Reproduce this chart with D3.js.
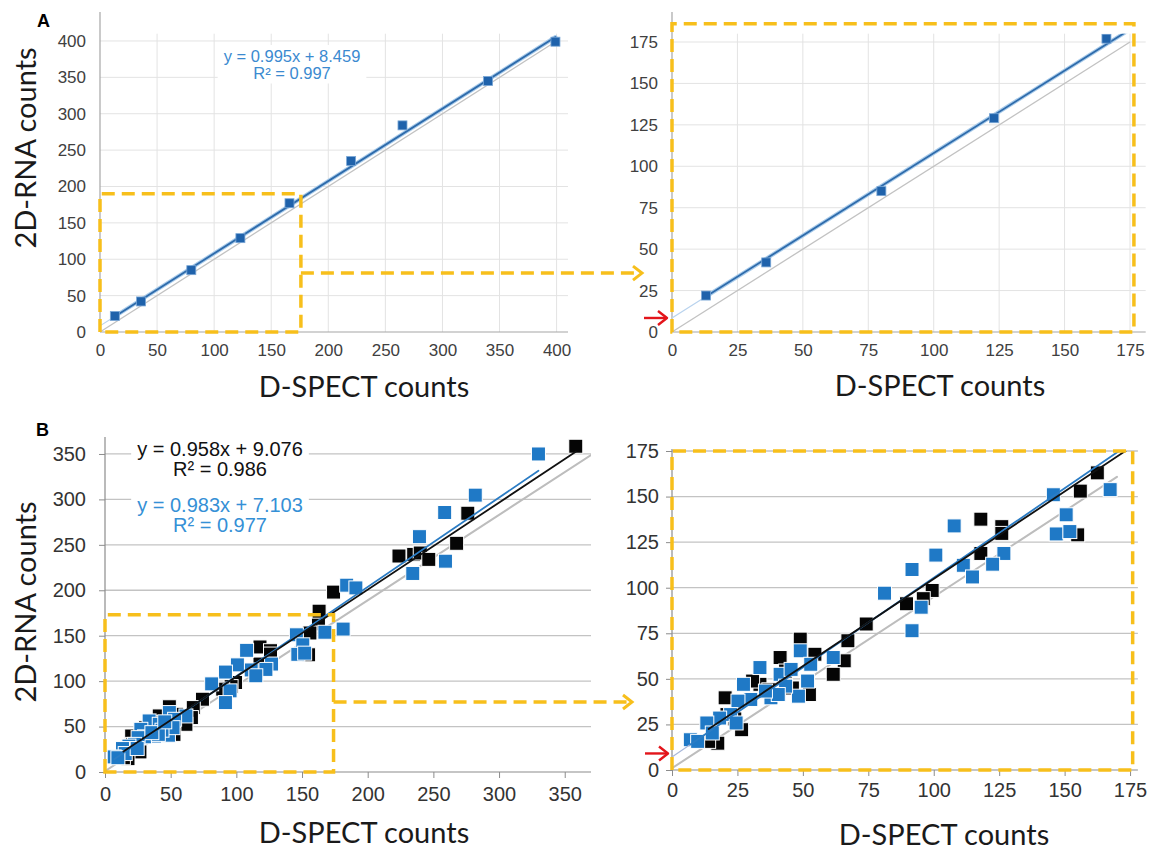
<!DOCTYPE html>
<html><head><meta charset="utf-8">
<script src="https://cdn.jsdelivr.net/npm/d3@7"></script>
<style>body{margin:0;background:#fff}svg{display:block}</style>
</head><body>
<svg id="c" width="1156" height="852"></svg>
<script>
// ---------------- DATA ----------------
// Panel A (phantom series)
const aDspect = [13, 36, 80, 123, 166, 220, 265, 340, 399];
const aRna    = [22, 42, 85, 129, 177, 235, 284, 345, 399];
const aFit = [0.995, 8.459, 0.997]; // slope, intercept, R²

// Panel B – black series
const bBlackDspect = [162.5,156,155,118,126,126,118,99.4,96,89.6,74.2,67.2,65.8,61.6,49,54.6,41.3,33.6,52.5,46,20.3,26.6,17.5,21,14,43.4,30.8,37,24,163,174,223.8,235,240,246.5,267.7,276.2,358.4];
const bBlackRna    = [163,153,129,137.6,133.5,129.8,118.8,98.5,94,91.2,80.1,70.9,59.9,52.5,71.8,63.5,61.7,47,41.4,45,39.6,22.1,14.7,30.4,15.7,54.3,48.8,44,28,177,198,237.7,239.5,241,234,251.7,284.8,358.5];
const bBlackFit = [0.958, 9.076, 0.986];

// Panel B – blue series
const bBlueDspect = [167.4,145.7,150.6,146.8,152,107.8,126.8,122.5,111.3,114.8,100.8,91.7,81.2,95.2,91.7,49,61.6,33.6,53,41.3,48.3,51.8,27.3,37.8,30.1,25.2,22.4,18.2,13.3,15.4,7,9.8,24.5,43.4,40.6,35.7,45.5,181.3,184,191,234.3,239.4,259.2,258.6,281.9,330];
const bBlueRna    = [153.8,151,140,129.5,130.8,133.9,118.8,112.9,112.3,105.9,117.9,110,97,89.3,76.4,65.4,61.7,56.2,58,52.5,40.5,48.8,47,39.6,38.7,37.8,30.4,28.5,25.8,20.3,16.6,15.7,25.8,46,41.4,43.3,55.2,157.3,205.6,202.6,218.5,259,232,285.6,304.7,350];
const bBlueFit = [0.983, 7.103, 0.977];

// grey reference line in panel B
const bGrayFit = [0.94, 1];

// tick labels
const ticksALeft  = [0,50,100,150,200,250,300,350,400];
const ticksARight = [0,25,50,75,100,125,150,175];
const ticksBLeft  = [0,50,100,150,200,250,300,350];
const ticksBRight = [0,25,50,75,100,125,150,175];

// zoom windows (data units) drawn as dashed boxes
const zoomBoxA  = [176, 190];
const zoomBoxAR = [176.5, 186];
const zoomBoxB  = [174, 173];
const zoomBoxBR = [176, 175];

// ---------------- DRAW ----------------
const svg = d3.select('#c');
const YELLOW = '#f7bf1b';
const RED = '#e3151b';
const TICKFONT = '"Liberation Sans", Arial, sans-serif';
const TITLEFONT = 'Lato, "Open Sans", sans-serif';

const toPts = (xs, ys) => xs.map((v,i)=>({x:v, y:ys[i]}));
const aPts = toPts(aDspect, aRna);
const bBlack = toPts(bBlackDspect, bBlackRna);
const bBlue = toPts(bBlueDspect, bBlueRna);

function panel(p){
  const x = d3.scaleLinear().domain(p.xd).range(p.xr);
  const y = d3.scaleLinear().domain(p.yd).range(p.yr);
  const g = svg.append('g');
  const cid = 'clip-'+p.id;
  svg.append('clipPath').attr('id',cid).append('rect')
    .attr('x',p.xr[0]).attr('y',p.yr[1]).attr('width',p.xr[1]-p.xr[0]).attr('height',p.yr[0]-p.yr[1]);
  g.append('g').selectAll('line').data(p.ticks.filter(t=>t>0)).join('line')
    .attr('x1',p.xr[0]).attr('x2',p.xr[1]).attr('y1',d=>y(d)).attr('y2',d=>y(d))
    .attr('stroke',p.grid).attr('stroke-width',p.gridW);
  if(p.vgrid){
    g.append('g').selectAll('line').data(p.xticks.filter(t=>t>0)).join('line')
      .attr('y1',p.yr[0]).attr('y2',p.yr[1]).attr('x1',d=>x(d)).attr('x2',d=>x(d))
      .attr('stroke',p.grid).attr('stroke-width',p.gridW);
  }
  const ax = g.append('g').attr('transform',`translate(0,${p.yr[0]})`)
    .call(d3.axisBottom(x).tickValues(p.xticks).tickSize(p.tick).tickSizeOuter(0).tickPadding(p.xpad));
  const ay = g.append('g').attr('transform',`translate(${p.xr[0]},0)`)
    .call(d3.axisLeft(y).tickValues(p.ticks).tickSize(p.tick).tickSizeOuter(0).tickPadding(p.ypad));
  [ax,ay].forEach(a=>{
    a.select('.domain').remove();
    a.selectAll('line').attr('stroke',p.axisColor);
    a.selectAll('text').attr('font-family',TICKFONT).attr('font-size',p.tickFont).attr('fill',p.tickColor);
  });
  g.append('line').attr('x1',p.xr[0]).attr('x2',p.xr[1]).attr('y1',p.yr[0]).attr('y2',p.yr[0]).attr('stroke',p.axisColor).attr('stroke-width',1.2);
  g.append('line').attr('x1',p.xr[0]).attr('x2',p.xr[0]).attr('y1',p.yr[0]).attr('y2',p.axisTop).attr('stroke',p.axisColor).attr('stroke-width',1.2);
  return {x,y,g,cid};
}

function fitLine(g, x, y, cid, fit, x0, x1, color, w){
  g.append('line').attr('clip-path',`url(#${cid})`)
    .attr('x1',x(x0)).attr('y1',y(fit[0]*x0+fit[1]))
    .attr('x2',x(x1)).attr('y2',y(fit[0]*x1+fit[1]))
    .attr('stroke',color).attr('stroke-width',w).attr('stroke-linecap','round');
}

function dashedBox(g,x,y,box){
  g.append('path')
    .attr('d',`M${x(0)},${y(0)} L${x(0)},${y(box[1])} L${x(box[0])},${y(box[1])} L${x(box[0])},${y(0)} Z`)
    .attr('fill','none').attr('stroke',YELLOW).attr('stroke-width',3.5).attr('stroke-dasharray','13,7');
}

function eqText(g, cx, y1, lines, color, size){
  const tg = g.append('g');
  const rect = tg.append('rect').attr('fill','#fff');
  lines.forEach((t,i)=>{
    tg.append('text').attr('x',cx).attr('y',y1+i*size*1.0).attr('text-anchor','middle')
      .attr('font-family',TICKFONT).attr('font-size',size).attr('fill',color).text(t);
  });
  const bb = tg.node().getBBox();
  rect.attr('x',bb.x-6).attr('y',bb.y-2).attr('width',bb.width+12).attr('height',bb.height+4);
}

function axisTitle(text, cx, cy, rotate){
  const t = svg.append('text').attr('font-family',TITLEFONT).attr('font-size',29).attr('fill','#1a1a1a')
    .attr('text-anchor','middle').text(text);
  if(rotate) t.attr('transform',`translate(${cx},${cy}) rotate(-90)`);
  else t.attr('x',cx).attr('y',cy);
}

function squares(g,x,y,cid,pts,size,fill,stroke,sw,filt){
  g.append('g').attr('clip-path',`url(#${cid})`).selectAll('rect').data(pts.filter(filt)).join('rect')
    .attr('x',d=>x(d.x)-size/2).attr('y',d=>y(d.y)-size/2).attr('width',size).attr('height',size)
    .attr('fill',fill).attr('stroke',stroke).attr('stroke-width',sw);
}

function redArrow(g, tipX, yv){
  g.append('line').attr('x1',tipX-23).attr('x2',tipX-1).attr('y1',yv).attr('y2',yv).attr('stroke',RED).attr('stroke-width',2.4);
  g.append('path').attr('d',`M${tipX-9},${yv-7} L${tipX},${yv} L${tipX-9},${yv+7}`).attr('fill','none').attr('stroke',RED).attr('stroke-width',2.4).attr('stroke-linejoin','round');
}

const fmtEq = f => `y = ${f[0].toFixed(3)}x + ${f[1].toFixed(3)}`;
const fmtR2 = f => `R² = ${f[2].toFixed(3)}`;

// ---- Panel A left ----
const commonA = {grid:'#e3e3e3', gridW:1, vgrid:true, tick:0, axisColor:'#a6a6a6', tickFont:17, tickColor:'#404040', xpad:12, ypad:14};
(function(){
  const p = panel(Object.assign({id:'al', xd:[0,410], yd:[0,410], xr:[100,568], yr:[332,33.7], ticks:ticksALeft, xticks:ticksALeft, axisTop:12}, commonA));
  const {x,y,g,cid} = p;
  const xe = d3.extent(aDspect);
  eqText(g, 292, 62, [fmtEq(aFit), fmtR2(aFit)], '#3b8ad0', 16.5);
  g.append('line').attr('x1',x(0)).attr('y1',y(0)).attr('x2',x(400)).attr('y2',y(400)).attr('stroke','#c2c2c2').attr('stroke-width',1.3);
  fitLine(g,x,y,cid,aFit,0,xe[0],'#b9d3ee',1.2);
  fitLine(g,x,y,cid,aFit,xe[0],xe[1],'#a9cbea',4);
  fitLine(g,x,y,cid,aFit,xe[0],xe[1],'#2e6bab',1.8);
  squares(g,x,y,cid,aPts,9,'#1f62ab','#7aa7d6',0.8,d=>true);
  dashedBox(g,x,y,zoomBoxA);
  const yc = y(81);
  g.append('line').attr('x1',x(zoomBoxA[0])).attr('x2',638).attr('y1',yc).attr('y2',yc)
    .attr('stroke',YELLOW).attr('stroke-width',3.5).attr('stroke-dasharray','13,7');
  g.append('path').attr('d',`M633,${yc-7} L642,${yc} L633,${yc+7}`).attr('fill','none').attr('stroke',YELLOW).attr('stroke-width',3);
})();

// ---- Panel A right ----
(function(){
  const p = panel(Object.assign({id:'ar', xd:[0,181], yd:[0,180], xr:[672,1145.7], yr:[332,33.7], ticks:ticksARight, xticks:ticksARight, axisTop:12}, commonA));
  const {x,y,g,cid} = p;
  const xe = d3.extent(aDspect);
  g.append('line').attr('x1',x(0)).attr('y1',y(0)).attr('x2',x(175)).attr('y2',y(175)).attr('stroke','#c2c2c2').attr('stroke-width',1.3);
  fitLine(g,x,y,cid,aFit,0,xe[0],'#b9d3ee',1.2);
  fitLine(g,x,y,cid,aFit,xe[0],xe[1],'#a9cbea',4);
  fitLine(g,x,y,cid,aFit,xe[0],xe[1],'#2e6bab',1.8);
  squares(g,x,y,cid,aPts,9,'#1f62ab','#7aa7d6',0.8,d=>d.x<=181&&d.y<=180);
  dashedBox(g,x,y,zoomBoxAR);
  redArrow(g, x(0)-5, y(aFit[1]));
})();

// ---- Panel B left ----
const commonB = {grid:'#c3c3c3', gridW:1.3, vgrid:false, tick:6, axisColor:'#8c8c8c', tickFont:20, tickColor:'#333'};
(function(){
  const p = panel(Object.assign({id:'bl', xd:[0,370], yd:[0,370], xr:[105,591], yr:[772,435.8], ticks:ticksBLeft, xticks:ticksBLeft, axisTop:437, xpad:9, ypad:13}, commonB));
  const {x,y,g,cid} = p;
  eqText(g, 220, 456, [fmtEq(bBlackFit), fmtR2(bBlackFit)], '#111', 20);
  eqText(g, 220, 512, [fmtEq(bBlueFit), fmtR2(bBlueFit)], '#3590d6', 20);
  fitLine(g,x,y,cid,bGrayFit,0,370,'#bdbdbd',2);
  squares(g,x,y,cid,bBlack,14,'#050505','#fff',1,d=>true);
  squares(g,x,y,cid,bBlue,14,'#1f79c6','#fff',1,d=>true);
  const eb = d3.extent(bBlackDspect), eu = d3.extent(bBlueDspect);
  fitLine(g,x,y,cid,bBlueFit,eu[0],eu[1],'#2b7cc4',1.8);
  fitLine(g,x,y,cid,bBlackFit,eb[0],eb[1],'#111',1.8);
  dashedBox(g,x,y,zoomBoxB);
  const yc = y(77);
  g.append('line').attr('x1',x(zoomBoxB[0])).attr('x2',627).attr('y1',yc).attr('y2',yc)
    .attr('stroke',YELLOW).attr('stroke-width',3.5).attr('stroke-dasharray','13,7');
  g.append('path').attr('d',`M623,${yc-7} L632,${yc} L623,${yc+7}`).attr('fill','none').attr('stroke',YELLOW).attr('stroke-width',3);
})();

// ---- Panel B right ----
(function(){
  const p = panel(Object.assign({id:'br', xd:[0,178], yd:[0,175], xr:[672,1137.9], yr:[770,451], ticks:ticksBRight, xticks:ticksBRight, axisTop:449, xpad:7, ypad:7}, commonB));
  const {x,y,g,cid} = p;
  fitLine(g,x,y,cid,bGrayFit,0,170,'#bdbdbd',2);
  const inR = d=>d.x<=178&&d.y<=176;
  squares(g,x,y,cid,bBlack,14,'#050505','#fff',1,inR);
  squares(g,x,y,cid,bBlue,14,'#1f79c6','#fff',1,inR);
  const eb = d3.extent(bBlackDspect), eu = d3.extent(bBlueDspect);
  fitLine(g,x,y,cid,bBlueFit,0,eu[0],'#a9b8da',1.2);
  fitLine(g,x,y,cid,bBlueFit,eu[0],eu[1],'#2b7cc4',1.8);
  fitLine(g,x,y,cid,bBlackFit,eb[0],eb[1],'#111',1.8);
  dashedBox(g,x,y,zoomBoxBR);
  redArrow(g, x(0)-4, y(bBlackFit[1]));
})();

// titles
axisTitle('2D-RNA counts', 36, 148, true);
axisTitle('2D-RNA counts', 36, 602, true);
axisTitle('D-SPECT counts', 364, 397, false);
axisTitle('D-SPECT counts', 940, 396, false);
axisTitle('D-SPECT counts', 364, 843, false);
axisTitle('D-SPECT counts', 944, 845, false);
svg.append('text').attr('x',37).attr('y',27).attr('font-family',TICKFONT).attr('font-weight','bold').attr('font-size',18).text('A');
svg.append('text').attr('x',36).attr('y',436).attr('font-family',TICKFONT).attr('font-weight','bold').attr('font-size',18).text('B');
</script>
</body></html>
